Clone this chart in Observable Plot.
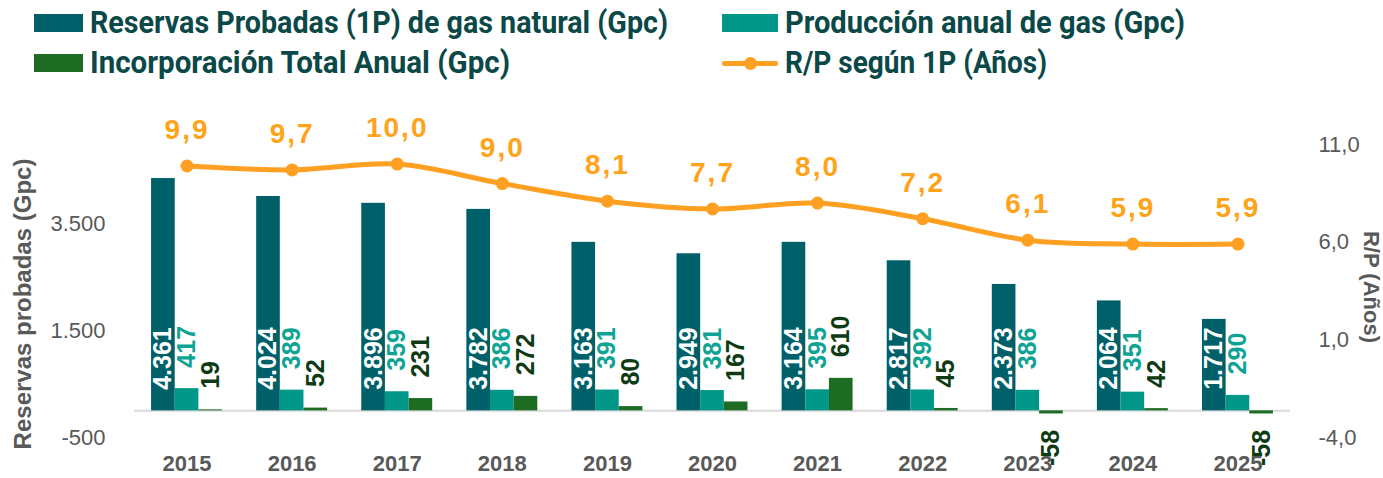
<!DOCTYPE html>
<html>
<head>
<meta charset="utf-8">
<script src="https://cdn.jsdelivr.net/npm/d3@7"></script>
<script src="https://cdn.jsdelivr.net/npm/@observablehq/plot@0.6"></script>
<style>
  html, body { margin: 0; padding: 0; background: #fff; }
  #wrap { width: 1383px; height: 478px; position: relative; overflow: hidden; }
  #legend { position: relative; width: 1383px; height: 90px; font-family: Roboto, "Liberation Sans", sans-serif; font-weight: bold; font-size: 31px; color: #0b4848; }
  .li { position: absolute; display: flex; align-items: center; white-space: nowrap; }
  .sw { display: inline-block; width: 49px; height: 18px; margin-right: 7px; flex: none; }
  .ln { position: relative; display: inline-block; width: 56px; height: 18px; margin-right: 7px; flex: none; }
  .ln::before { content: ""; position: absolute; left: 0; right: 0; top: 7px; height: 5px; background: #FFA022; border-radius: 2px; }
  .ln::after { content: ""; position: absolute; left: 22px; top: 3px; width: 13px; height: 13px; border-radius: 50%; background: #FFA022; }
  .txt { display: inline-block; transform-origin: 0 50%; }
  .rplab { letter-spacing: 2px; }
</style>
</head>
<body>
<div id="wrap">
  <div id="legend">
    <div class="li" style="left:34px; top:4px;"><span class="sw" style="background:#00606A"></span><span class="txt" data-w="578">Reservas Probadas (1P) de gas natural (Gpc)</span></div>
    <div class="li" style="left:34px; top:44px;"><span class="sw" style="background:#1E6B24"></span><span class="txt" data-w="420">Incorporación Total Anual (Gpc)</span></div>
    <div class="li" style="left:722px; top:4px;"><span class="sw" style="background:#009688; width:56px"></span><span class="txt" data-w="400">Producción anual de gas (Gpc)</span></div>
    <div class="li" style="left:722px; top:44px;"><span class="ln"></span><span class="txt" data-w="262">R/P según 1P (Años)</span></div>
  </div>
  <div id="chart"></div>
</div>
<script>
const years = [2015, 2016, 2017, 2018, 2019, 2020, 2021, 2022, 2023, 2024, 2025];
const reserves = [4361, 4024, 3896, 3782, 3163, 2949, 3164, 2817, 2373, 2064, 1717];
const production = [417, 389, 359, 386, 391, 381, 395, 392, 386, 351, 290];
const incorporation = [19, 52, 231, 272, 80, 167, 610, 45, -58, 42, -58];
const rp = [9.9, 9.7, 10.0, 9.0, 8.1, 7.7, 8.0, 7.2, 6.1, 5.9, 5.9];
const leftTicks = [-500, 1500, 3500];
const rightTicks = [-4, 1, 6, 11];
const leftDomain = [-500, 5000];
const rightDomain = [-4, 11];

const loc = d3.formatLocale({decimal: ",", thousands: ".", grouping: [3], currency: ["", ""], minus: "-"});
const fInt = loc.format(",");
const f1 = loc.format(",.1f");

// map right-axis (R/P) values into the left-axis scale
const toLeft = v => leftDomain[0] + (v - rightDomain[0]) * (leftDomain[1] - leftDomain[0]) / (rightDomain[1] - rightDomain[0]);
const fromLeft = u => rightDomain[0] + (u - leftDomain[0]) * (rightDomain[1] - rightDomain[0]) / (leftDomain[1] - leftDomain[0]);

const rows = years.map((year, i) => ({
  year, reserves: reserves[i], production: production[i], incorporation: incorporation[i], rp: rp[i]
}));

const C_RES = "#00606A", C_PROD = "#009688", C_INC = "#1E6B24", C_RP = "#FFA022";
const W = 0.225;
const font = "Liberation Sans, Arial, sans-serif";

const chart = Plot.plot({
  width: 1383,
  height: 388,
  marginLeft: 134,
  marginRight: 93,
  marginTop: 54,
  marginBottom: 41,
  style: {fontFamily: font, color: "#595959", background: "white"},
  x: {type: "linear", domain: [2014.5, 2025.5]},
  y: {domain: leftDomain},
  marks: [
    Plot.ruleY([0], {stroke: "#d9d9d9", strokeWidth: 2}),
    Plot.rect(rows, {x1: d => d.year - 1.5 * W, x2: d => d.year - 0.5 * W, y1: d => 0, y2: "reserves", fill: C_RES}),
    Plot.rect(rows, {x1: d => d.year - 0.5 * W, x2: d => d.year + 0.5 * W, y1: d => 0, y2: "production", fill: C_PROD}),
    Plot.rect(rows, {x1: d => d.year + 0.5 * W, x2: d => d.year + 1.5 * W, y1: d => 0, y2: "incorporation", fill: C_INC}),
    Plot.text(rows, {x: d => d.year - W, y: d => 0, text: d => fInt(d.reserves), rotate: -90, textAnchor: "start", lineAnchor: "middle", dy: -21, fill: "white", fontSize: 25, fontWeight: "bold"}),
    Plot.text(rows, {x: d => d.year, y: "production", text: d => fInt(d.production), rotate: -90, textAnchor: "start", lineAnchor: "middle", dy: -21, fill: "#0FA394", fontSize: 25, fontWeight: "bold"}),
    Plot.text(rows.filter(d => d.incorporation >= 0), {x: d => d.year + W, y: "incorporation", text: d => fInt(d.incorporation), rotate: -90, textAnchor: "start", lineAnchor: "middle", dy: -21, fill: "#0E3B14", fontSize: 25, fontWeight: "bold"}),
    Plot.text(rows.filter(d => d.incorporation < 0), {x: d => d.year + W, y: "incorporation", text: d => fInt(d.incorporation), rotate: -90, textAnchor: "end", lineAnchor: "middle", dy: 16, fill: "#0E3B14", fontSize: 25, fontWeight: "bold"}),
    Plot.line(rows, {x: "year", y: d => toLeft(d.rp), stroke: C_RP, strokeWidth: 5, curve: "cardinal"}),
    Plot.dot(rows, {x: "year", y: d => toLeft(d.rp), r: 6.5, fill: C_RP}),
    Plot.text(rows, {x: "year", y: d => toLeft(d.rp), text: d => f1(d.rp), dy: -36, fill: "#FFA31A", fontSize: 28, fontWeight: "bold", className: "rplab"}),
    Plot.axisY({ticks: leftTicks, tickFormat: d => fInt(d), tickSize: 0, tickPadding: 29, fontSize: 22, label: null}),
    Plot.axisY({anchor: "right", ticks: rightTicks.map(toLeft), tickFormat: u => f1(fromLeft(u)), tickSize: 0, tickPadding: 28, fontSize: 22, label: null}),
    Plot.axisX({ticks: years, tickFormat: d => String(d), tickSize: 0, tickPadding: 18, fontSize: 22, fontWeight: "bold", label: null}),
    Plot.text(["Reservas probadas (Gpc)"], {frameAnchor: "left", textAnchor: "middle", rotate: -90, dx: -111, dy: 13, fontSize: 24, fontWeight: "bold", fill: "#595959"}),
    Plot.text(["R/P (Años)"], {frameAnchor: "right", textAnchor: "middle", rotate: 90, dx: 81, dy: -4, fontSize: 22, fontWeight: "bold", fill: "#595959"})
  ]
});
document.getElementById("chart").appendChild(chart);

// condense legend labels to the reference's narrow lettering
document.querySelectorAll("#legend .txt").forEach(el => {
  const w = el.getBoundingClientRect().width;
  const target = +el.dataset.w;
  if (w > 0) el.style.transform = `scaleX(${target / w})`;
});
</script>
</body>
</html>
